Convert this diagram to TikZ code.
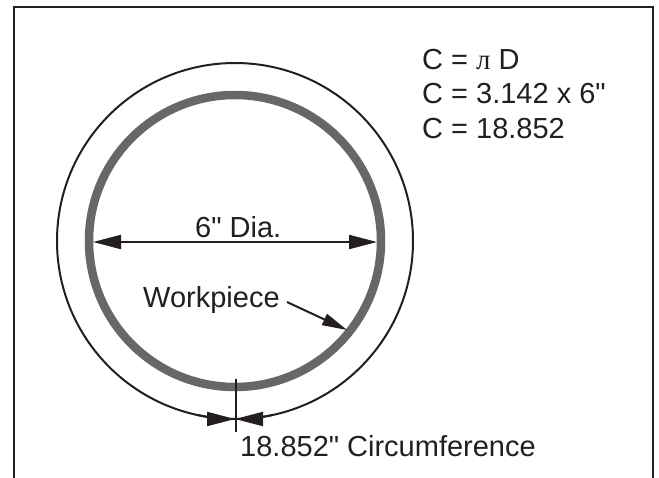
\documentclass[tikz,border=0pt]{standalone}
\usepackage{fontspec}
\setmainfont{Liberation Sans}
\newfontfamily\labelfont{Liberation Sans}
\newfontfamily\cyrserif{Liberation Serif}
\usetikzlibrary{arrows.meta}
\definecolor{ink}{HTML}{231F20}
\definecolor{ring}{HTML}{676767}
\begin{document}
\begin{tikzpicture}[x=1pt,y=-1pt,
  lbl/.style={anchor=base west, inner sep=0pt, text=ink, font=\labelfont\fontsize{29}{34}\selectfont},
  tip/.tip={Triangle[length=28pt,width=14pt]},
  smalltip/.tip={Triangle[length=25pt,width=12pt]},
  dimline/.style={line width=2pt, draw=ink},
  frameline/.style={line width=2.5pt, draw=ink},
  ringline/.style={line width=8.5pt, draw=ring},
]
\useasboundingbox (0,0) rectangle (659,477);
% frame
\draw[frameline] (14,480) -- (14,7) -- (653,7) -- (653,480);
% centre and ring
\coordinate (c) at (235,241);
\draw[ringline] (c) circle[radius=146];
% outer circumference arcs
\draw[dimline] (c) ++(-90:178) arc[start angle=-90, end angle=90, radius=178];
\draw[dimline] (c) ++(-90:178) arc[start angle=-90, end angle=-270, radius=178];
% arrowheads at the bottom of the circumference
\draw[dimline, -tip] (c) ++(78:178) arc[start angle=78, end angle=90, radius=178];
\draw[dimline, -tip] (c) ++(102:178) arc[start angle=102, end angle=90, radius=178];
% tick
\coordinate (tk1) at (236,379);
\coordinate (tk2) at (236,432);
\draw[dimline] (tk1) -- (tk2);
% diameter
\coordinate (dl) at (93,242);
\coordinate (dr) at (377,242);
\draw[dimline, tip-tip] (dl) -- (dr);
\node[lbl] (dia) at (195,237) {6" Dia.};
% workpiece
\node[lbl] (wp) at (143,307) {Workpiece};
\coordinate (ws) at (287,302);
\coordinate (wt) at (347,330);
\draw[dimline, -smalltip] (ws) -- (wt);
% formulas
\node[lbl] (f1) at (422,69) {C = {\cyrserif л} D};
\node[lbl] (f2) at (422,103) {C = 3.142 x 6"};
\node[lbl] (f3) at (422,138) {C = 18.852};
% circumference label
\node[lbl] (circ) at (240,456) {18.852" Circumference};
\end{tikzpicture}
\end{document}
